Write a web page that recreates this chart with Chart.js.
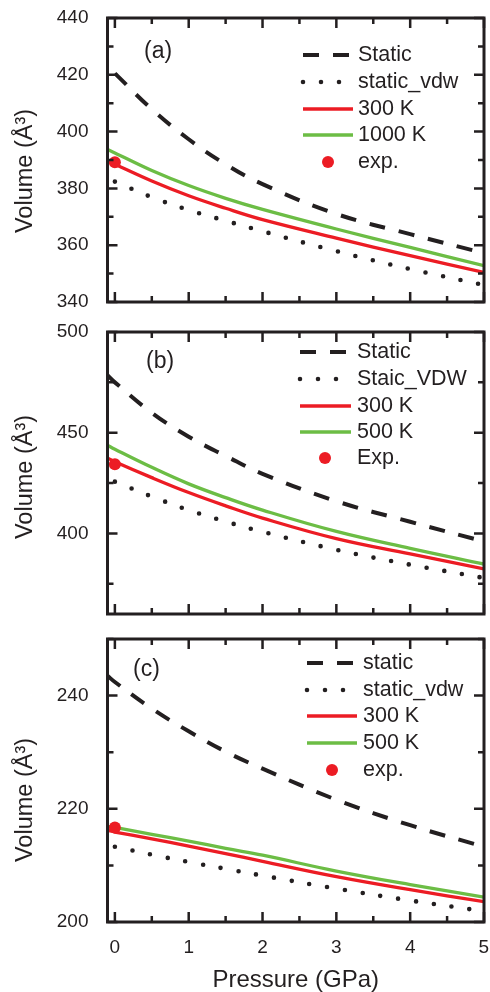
<!DOCTYPE html>
<html lang="en">
<head>
<meta charset="UTF-8">
<title>Volume vs pressure</title>
<script src="https://cdn.jsdelivr.net/npm/chart.js"></script>
<style>
  html, body { margin: 0; padding: 0; background: #fff; }
  .panel { position: absolute; left: 0; width: 490px; }
  canvas { display: block; }
</style>
</head>
<body>
<div class="panel" style="top:0;height:330px"><canvas id="chartA" width="490" height="330"></canvas></div>
<div class="panel" style="top:320px;height:305px"><canvas id="chartB" width="490" height="305"></canvas></div>
<div class="panel" style="top:625px;height:367px"><canvas id="chartC" width="490" height="367"></canvas></div>

<script>
// pressure points (GPa); some curves start right at the left frame edge
const pressureGrid = [0, 0.5, 1, 1.5, 2, 3, 4, 5];
const pressureEdge = [-0.1, 0, 0.5, 1, 1.5, 2, 3, 4, 5];
const xTicks = [0, 1, 2, 3, 4, 5];
const xMinor = [0.5, 1.5, 2.5, 3.5, 4.5];

// panel (a)
const legendA = ['Static', 'static_vdw', '300 K', '1000 K', 'exp.'];
const staticA = [420.5, 407.9, 397.3, 388.5, 381.5, 371.0, 363.9, 357.2];
const vdwA = [382.4, 376.9, 372.4, 368.6, 364.9, 357.9, 351.6, 346.0];
const k300A = [389.7, 388.5, 382.6, 377.4, 373.0, 369.0, 362.5, 356.3, 350.4];
const hotA = [393.7, 392.5, 386.3, 381.0, 376.5, 372.6, 365.7, 359.2, 352.8];
const expA = [0, 389.2];
const yTicksA = [340, 360, 380, 400, 420, 440];
const yMinorA = [350, 370, 390, 410, 430];

// panel (b)
const legendB = ['Static', 'Staic_VDW', '300 K', '500 K', 'Exp.'];
const staticB = [478.5, 475.0, 459.9, 448.0, 438.5, 429.6, 416.0, 405.8, 396.0];
const vdwB = [425.7, 418.3, 411.6, 405.9, 400.8, 391.9, 384.5, 377.9];
const k300B = [437.5, 435.6, 427.7, 420.3, 413.7, 407.6, 397.4, 389.8, 382.4];
const hotB = [443.8, 441.8, 432.8, 424.6, 417.8, 411.6, 401.0, 392.6, 384.8];
const expB = [0, 434.3];
const yTicksB = [400, 450, 500];
const yMinorB = [375, 425, 475];

// panel (c)
const legendC = ['static', 'static_vdw', '300 K', '500 K', 'exp.'];
const staticC = [243.5, 242.4, 237.7, 233.7, 230.1, 227.1, 221.6, 217.1, 213.3];
const vdwC = [213.3, 211.9, 210.6, 209.4, 208.2, 205.9, 203.8, 201.9];
const k300C = [216.2, 215.9, 214.7, 213.4, 212.1, 210.7, 208.0, 205.7, 203.6];
const hotC = [216.9, 216.7, 215.5, 214.3, 213.0, 211.8, 209.0, 206.6, 204.4];
const expC = [0, 216.7];
const yTicksC = [200, 220, 240];
const yMinorC = [210, 230, 250];

const ink = '#231f20';
const red = '#ec1c24';
const green = '#6cbd45';
const family = '"Liberation Sans", Arial, Helvetica, sans-serif';

function curve(xs, ys, color, width, dash, cap) {
    return {
        data: xs.map((x, i) => ({ x: x, y: ys[i] })),
        borderColor: color,
        borderWidth: width,
        borderDash: dash,
        borderCapStyle: cap,
        pointRadius: 0,
        fill: false,
        tension: 0.4,
        order: 1
    };
}

function makePanel(id, p) {
    const datasets = [
        curve(p.staticX, p.staticV, ink, 4, [16, 14], 'butt'),
        curve(pressureGrid, p.vdwV, ink, 4.6, [0, 18], 'round'),
        curve(pressureEdge, p.k300V, red, 3.3, [], 'butt'),
        curve(pressureEdge, p.hotV, green, 3.3, [], 'butt'),
        {
            data: [{ x: p.exp[0], y: p.exp[1] }],
            showLine: false,
            pointRadius: 6,
            pointBackgroundColor: red,
            pointBorderWidth: 0,
            order: 0
        }
    ];
    datasets.forEach((d, i) => d.label = p.legend[i]);

    // frame, inward ticks, legend, panel tag and axis titles
    const decor = {
        id: 'decor',
        afterDatasetsDraw(chart) {
            const { ctx, chartArea: a, scales: { x, y } } = chart;
            ctx.save();
            ctx.strokeStyle = ink;
            ctx.fillStyle = ink;
            ctx.setLineDash([]);
            ctx.lineCap = 'butt';
            ctx.lineWidth = 2.5;
            ctx.beginPath();
            const xMark = (v, len) => {
                const px = x.getPixelForValue(v);
                ctx.moveTo(px, a.bottom); ctx.lineTo(px, a.bottom - len);
                ctx.moveTo(px, a.top); ctx.lineTo(px, a.top + len);
            };
            const yMark = (v, len) => {
                const py = y.getPixelForValue(v);
                ctx.moveTo(a.left, py); ctx.lineTo(a.left + len, py);
                ctx.moveTo(a.right, py); ctx.lineTo(a.right - len, py);
            };
            xTicks.forEach(v => xMark(v, 10));
            xMinor.forEach(v => xMark(v, 6));
            p.yTicks.forEach(v => yMark(v, 10));
            p.yMinor.forEach(v => yMark(v, 6));
            ctx.stroke();
            ctx.lineWidth = 3;
            ctx.strokeRect(a.left, a.top, a.width, a.height);

            // panel tag
            ctx.font = '23px ' + family;
            ctx.textAlign = 'left';
            ctx.textBaseline = 'middle';
            ctx.fillText(p.tag, p.tagPos[0], p.tagPos[1]);

            // legend
            const L = p.legendPos;
            ctx.font = '21.5px ' + family;
            chart.data.datasets.forEach((d, i) => {
                const ry = L.rows[i];
                if (d.showLine === false) {
                    ctx.beginPath();
                    ctx.fillStyle = d.pointBackgroundColor;
                    ctx.arc(L.dot, ry, d.pointRadius, 0, Math.PI * 2);
                    ctx.fill();
                } else {
                    ctx.beginPath();
                    ctx.strokeStyle = d.borderColor;
                    ctx.lineWidth = d.borderWidth;
                    ctx.lineCap = d.borderCapStyle;
                    ctx.setLineDash(d.borderDash);
                    ctx.moveTo(L.x0, ry);
                    ctx.lineTo(L.x1, ry);
                    ctx.stroke();
                    ctx.setLineDash([]);
                }
                ctx.fillStyle = ink;
                ctx.fillText(d.label, L.text, ry);
            });

            // y title
            ctx.save();
            ctx.font = '23.5px ' + family;
            ctx.textAlign = 'center';
            ctx.translate(26, p.titleY);
            ctx.rotate(-Math.PI / 2);
            ctx.fillText('Volume (Å³)', 0, 0);
            ctx.restore();

            // x tick labels and title on the bottom panel only
            if (p.xLabels) {
                ctx.font = '19px ' + family;
                ctx.textAlign = 'center';
                ctx.textBaseline = 'alphabetic';
                xTicks.forEach(v => {
                    const w = ctx.measureText(String(v)).width;
                    const cx = Math.min(x.getPixelForValue(v), chart.width - 1 - w / 2);
                    ctx.fillText(String(v), cx, a.bottom + 31);
                });
                ctx.font = '24px ' + family;
                ctx.textBaseline = 'middle';
                ctx.fillText('Pressure (GPa)', (a.left + a.right) / 2, a.bottom + 58);
            }
            ctx.restore();
        }
    };

    return new Chart(document.getElementById(id), {
        type: 'line',
        data: { datasets: datasets },
        options: {
            responsive: false,
            animation: false,
            layout: { padding: { top: p.padTop, right: 1.5, left: 0, bottom: 0 } },
            plugins: { legend: { display: false }, tooltip: { enabled: false } },
            scales: {
                x: {
                    type: 'linear',
                    min: -0.1,
                    max: 5,
                    grid: { display: false, drawTicks: false },
                    border: { display: false },
                    ticks: { display: false },
                    afterBuildTicks: s => { s.ticks = xTicks.map(v => ({ value: v })); },
                    afterFit: s => { s.height = p.xAxisH; s.paddingLeft = 0; s.paddingRight = 0; }
                },
                y: {
                    min: p.yMin,
                    max: p.yMax,
                    grid: { display: false, drawTicks: false },
                    border: { display: false },
                    ticks: { color: ink, padding: 19, font: { family: family, size: 19 } },
                    afterBuildTicks: s => { s.ticks = p.yTicks.map(v => ({ value: v })); },
                    afterFit: s => { s.width = 107.5; s.paddingTop = 0; s.paddingBottom = 0; }
                }
            }
        },
        plugins: [decor]
    });
}

makePanel('chartA', {
    legend: legendA, staticX: pressureGrid, staticV: staticA, vdwV: vdwA,
    k300V: k300A, hotV: hotA, exp: expA,
    yMin: 340, yMax: 440, yTicks: yTicksA, yMinor: yMinorA,
    padTop: 18, xAxisH: 28, tag: '(a)', tagPos: [144, 52],
    legendPos: { x0: 303, x1: 353, text: 358, dot: 328, rows: [55, 82, 109, 135, 162] },
    titleY: 171, xLabels: false
});

makePanel('chartB', {
    legend: legendB, staticX: pressureEdge, staticV: staticB, vdwV: vdwB,
    k300V: k300B, hotV: hotB, exp: expB,
    yMin: 360, yMax: 500, yTicks: yTicksB, yMinor: yMinorB,
    padTop: 12, xAxisH: 11, tag: '(b)', tagPos: [146, 42],
    legendPos: { x0: 300, x1: 351, text: 357, dot: 325, rows: [32, 59, 86, 112, 138] },
    titleY: 157, xLabels: false
});

makePanel('chartC', {
    legend: legendC, staticX: pressureEdge, staticV: staticC, vdwV: vdwC,
    k300V: k300C, hotV: hotC, exp: expC,
    yMin: 200, yMax: 250, yTicks: yTicksC, yMinor: yMinorC,
    padTop: 14, xAxisH: 70, tag: '(c)', tagPos: [133, 45],
    legendPos: { x0: 307, x1: 357, text: 363, dot: 332, rows: [38, 65, 91, 118, 145] },
    titleY: 175, xLabels: true
});
</script>
</body>
</html>
